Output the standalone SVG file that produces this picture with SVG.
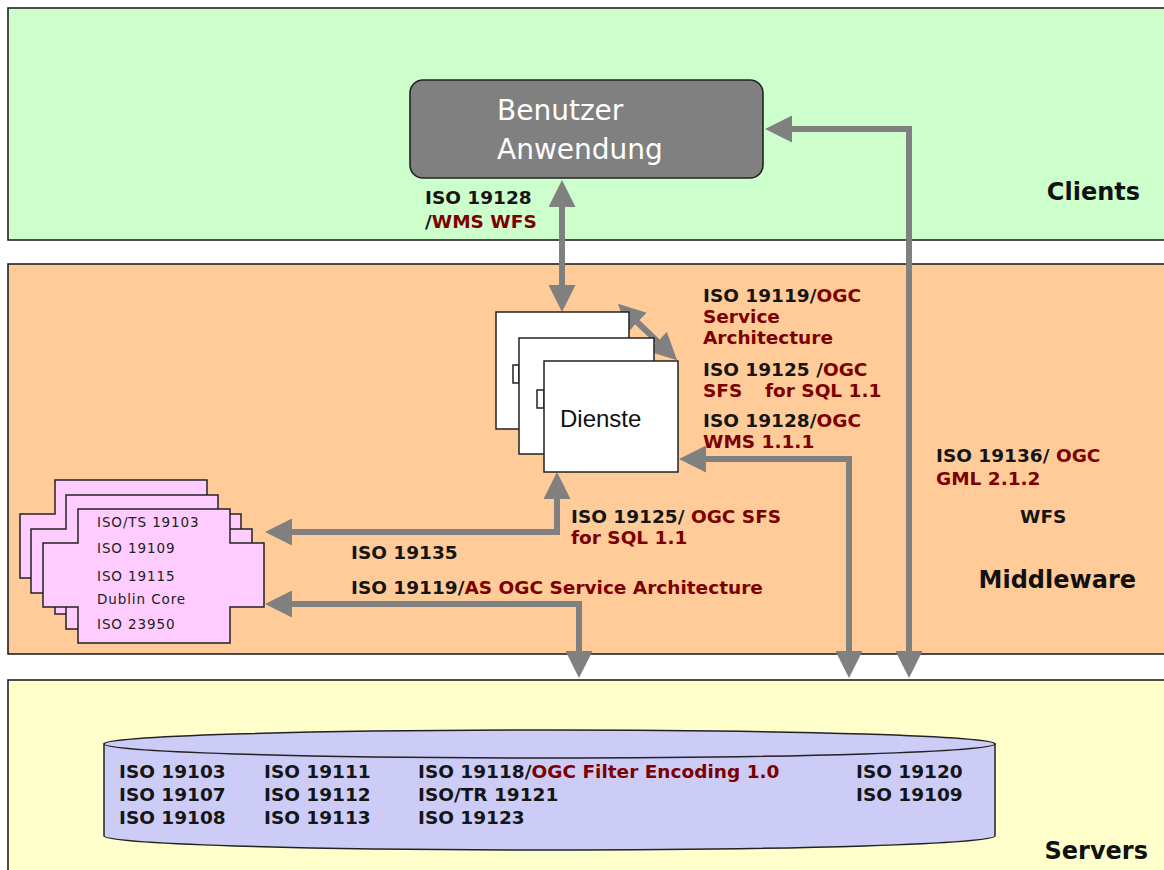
<svg xmlns="http://www.w3.org/2000/svg" width="1164" height="870" viewBox="0 0 1164 870">
<defs>
<style>
.band{stroke:#222;stroke-width:1.6}
.lbl{font-family:"DejaVu Sans",Verdana,sans-serif;font-weight:bold;font-size:18.5px;fill:#151515}
.red{fill:#7d0000}
.tier{font-family:"DejaVu Sans",Verdana,sans-serif;font-weight:bold;font-size:24px;fill:#111}
.pk{fill:#ffccff;stroke:#222;stroke-width:1.5}
.pkt{font-family:"DejaVu Sans",Verdana,sans-serif;font-size:13.5px;letter-spacing:0.9px;fill:#222}
.srv{fill:#fff;stroke:#222;stroke-width:1.5}
.conn{fill:none;stroke:#808080;stroke-width:6;stroke-linejoin:miter}
</style>
<marker id="ah" markerUnits="userSpaceOnUse" markerWidth="27" markerHeight="27" viewBox="0 0 27 27" refX="2" refY="13.5" orient="auto-start-reverse">
<path d="M0,0 L27,13.5 L0,27 z" fill="#808080"/>
</marker>
</defs>
<rect width="1164" height="870" fill="#ffffff"/>
<g id="band-clients">
<rect class="band" x="8" y="8" width="1170" height="232" fill="#ccffcc"/>
<text class="tier" x="1140" y="200" text-anchor="end">Clients</text>
</g>
<g id="band-middleware">
<rect class="band" x="8" y="264" width="1170" height="390" fill="#ffcc99"/>
<text class="tier" x="1136" y="588" text-anchor="end">Middleware</text>
</g>
<g id="band-servers">
<rect class="band" x="8" y="680" width="1170" height="200" fill="#ffffcc"/>
<text class="tier" x="1148" y="859" text-anchor="end">Servers</text>
</g>

<g id="connectors">
<path class="conn" d="M562,205 L562,287" marker-start="url(#ah)" marker-end="url(#ah)"/>
<path class="conn" d="M636,321 L659,343" marker-start="url(#ah)" marker-end="url(#ah)"/>
<path class="conn" d="M790,129 L909,129 L909,653" marker-start="url(#ah)" marker-end="url(#ah)"/>
<path class="conn" d="M704,459 L849,459 L849,653" marker-start="url(#ah)" marker-end="url(#ah)"/>
<path class="conn" d="M557,497 L557,532 L290,532" marker-start="url(#ah)" marker-end="url(#ah)"/>
<path class="conn" d="M290,604 L579,604 L579,653" marker-start="url(#ah)" marker-end="url(#ah)"/>
</g>

<g id="benutzer">
<rect x="410" y="80" width="353" height="98" rx="13" fill="#808080" stroke="#222" stroke-width="1.6"/>
<text x="497" y="120" font-family="'DejaVu Sans',Tahoma,sans-serif" font-size="28" fill="#ffffff">Benutzer</text>
<text x="497" y="159" font-family="'DejaVu Sans',Tahoma,sans-serif" font-size="28" fill="#ffffff">Anwendung</text>
</g>

<g id="dienste">
<rect class="srv" x="496" y="312" width="133" height="117"/>
<rect class="srv" x="513" y="365" width="6" height="18"/>
<rect class="srv" x="519" y="338" width="135" height="116"/>
<rect class="srv" x="537" y="390" width="7" height="18"/>
<rect class="srv" x="544" y="361" width="134" height="111"/>
<text x="560" y="427" font-family="'Liberation Sans',Arial,sans-serif" font-size="24" fill="#111">Dienste</text>
</g>

<g id="metadaten">
<path class="pk" d="M55,480 H207 V514 H241 V578 H207 V614 H55 V578 H20 V514 H55 Z"/>
<path class="pk" d="M66,495 H218 V529 H252 V593 H218 V629 H66 V593 H31 V529 H66 Z"/>
<path class="pk" d="M78,509 H230 V543 H264 V607 H230 V643 H78 V607 H43 V543 H78 Z"/>
<text class="pkt" x="97" y="527">ISO/TS 19103</text>
<text class="pkt" x="97" y="553">ISO 19109</text>
<text class="pkt" x="97" y="581">ISO 19115</text>
<text class="pkt" x="97" y="604">Dublin Core</text>
<text class="pkt" x="97" y="629">ISO 23950</text>
</g>

<g id="datenbank">
<path d="M104,744 L104,836 A445.5,14 0 0 0 995,836 L995,744 Z" fill="#ccccf7" stroke="#222" stroke-width="1.5"/>
<ellipse cx="549.5" cy="744" rx="445.5" ry="14" fill="#ccccf7" stroke="#222" stroke-width="1.5"/>
<text class="lbl" x="119" y="778">ISO 19103</text>
<text class="lbl" x="119" y="801">ISO 19107</text>
<text class="lbl" x="119" y="824">ISO 19108</text>
<text class="lbl" x="264" y="778">ISO 19111</text>
<text class="lbl" x="264" y="801">ISO 19112</text>
<text class="lbl" x="264" y="824">ISO 19113</text>
<text class="lbl" x="418" y="778">ISO 19118/<tspan class="red">OGC Filter Encoding 1.0</tspan></text>
<text class="lbl" x="418" y="801">ISO/TR 19121</text>
<text class="lbl" x="418" y="824">ISO 19123</text>
<text class="lbl" x="856" y="778">ISO 19120</text>
<text class="lbl" x="856" y="801">ISO 19109</text>
</g>

<g id="labels">
<text class="lbl" x="425" y="204">ISO 19128</text>
<text class="lbl" x="425" y="228">/<tspan class="red">WMS WFS</tspan></text>
<text class="lbl" x="703" y="302">ISO 19119/<tspan class="red">OGC</tspan></text>
<text class="lbl red" x="703" y="323">Service</text>
<text class="lbl red" x="703" y="344">Architecture</text>
<text class="lbl" x="703" y="376">ISO 19125 /<tspan class="red">OGC</tspan></text>
<text class="lbl red" x="703" y="397">SFS<tspan x="765">for SQL 1.1</tspan></text>
<text class="lbl" x="703" y="427">ISO 19128/<tspan class="red">OGC</tspan></text>
<text class="lbl red" x="703" y="448">WMS 1.1.1</text>
<text class="lbl" x="936" y="462">ISO 19136/ <tspan class="red">OGC</tspan></text>
<text class="lbl red" x="936" y="485">GML 2.1.2</text>
<text class="lbl" x="1020" y="523">WFS</text>
<text class="lbl" x="571" y="523">ISO 19125/ <tspan class="red">OGC SFS</tspan></text>
<text class="lbl red" x="571" y="544">for SQL 1.1</text>
<text class="lbl" x="351" y="559">ISO 19135</text>
<text class="lbl" x="351" y="594">ISO 19119/<tspan class="red">AS OGC Service Architecture</tspan></text>
</g>
</svg>
